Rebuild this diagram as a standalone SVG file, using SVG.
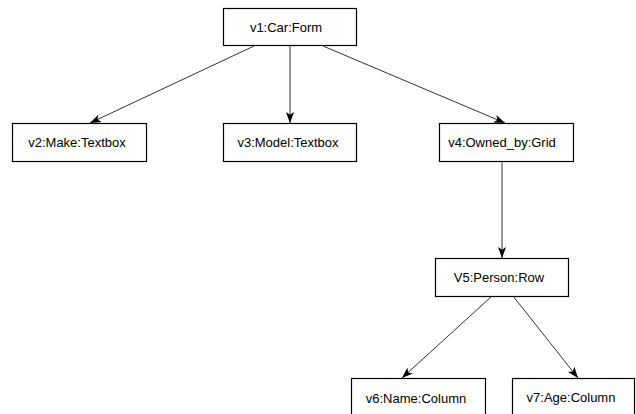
<svg xmlns="http://www.w3.org/2000/svg" width="636" height="414" viewBox="0 0 636 414">
  <defs>
    <marker id="arrow" viewBox="0 0 10 10" refX="10" refY="5" markerWidth="11" markerHeight="11" markerUnits="userSpaceOnUse" orient="auto">
      <path d="M0,1.3 L10,5 L0,8.7 L2.5,5 Z" fill="#000"/>
    </marker>
    <style>
      .box { fill: #fff; stroke: #000; stroke-width: 1.2; }
      .lbl { font-family: "Liberation Sans", Arial, sans-serif; font-size: 13px; fill: #000; text-anchor: middle; }
      .edge { stroke: #333; stroke-width: 1; fill: none; marker-end: url(#arrow); }
    </style>
  </defs>
  <rect width="636" height="414" fill="#fff"/>

  <g id="connectors">
    <line class="edge" x1="254" y1="46" x2="90" y2="123"/>
    <line class="edge" x1="290" y1="46" x2="290" y2="123"/>
    <line class="edge" x1="323" y1="46" x2="505" y2="123"/>
    <line class="edge" x1="502" y1="162" x2="502" y2="258"/>
    <line class="edge" x1="492" y1="296" x2="402" y2="378"/>
    <line class="edge" x1="513" y1="296" x2="578" y2="378"/>
  </g>

  <g id="v1">
    <rect class="box" x="223.5" y="8.5" width="133" height="37"/>
    <text class="lbl" x="286" y="31.5">v1:Car:Form</text>
  </g>
  <g id="v2">
    <rect class="box" x="12.5" y="123.5" width="134" height="38"/>
    <text class="lbl" x="77" y="147">v2:Make:Textbox</text>
  </g>
  <g id="v3">
    <rect class="box" x="223.5" y="123.5" width="133" height="38"/>
    <text class="lbl" x="288" y="147">v3:Model:Textbox</text>
  </g>
  <g id="v4">
    <rect class="box" x="439.5" y="123.5" width="134" height="38"/>
    <text class="lbl" x="502" y="147">v4:Owned_by:Grid</text>
  </g>
  <g id="v5">
    <rect class="box" x="435.5" y="258.5" width="133" height="38"/>
    <text class="lbl" x="499" y="282">V5:Person:Row</text>
  </g>
  <g id="v6">
    <rect class="box" x="351.5" y="378.5" width="134" height="40"/>
    <text class="lbl" x="416" y="403">v6:Name:Column</text>
  </g>
  <g id="v7">
    <rect class="box" x="512.5" y="378.5" width="122" height="40"/>
    <text class="lbl" x="571" y="402">v7:Age:Column</text>
  </g>
</svg>
